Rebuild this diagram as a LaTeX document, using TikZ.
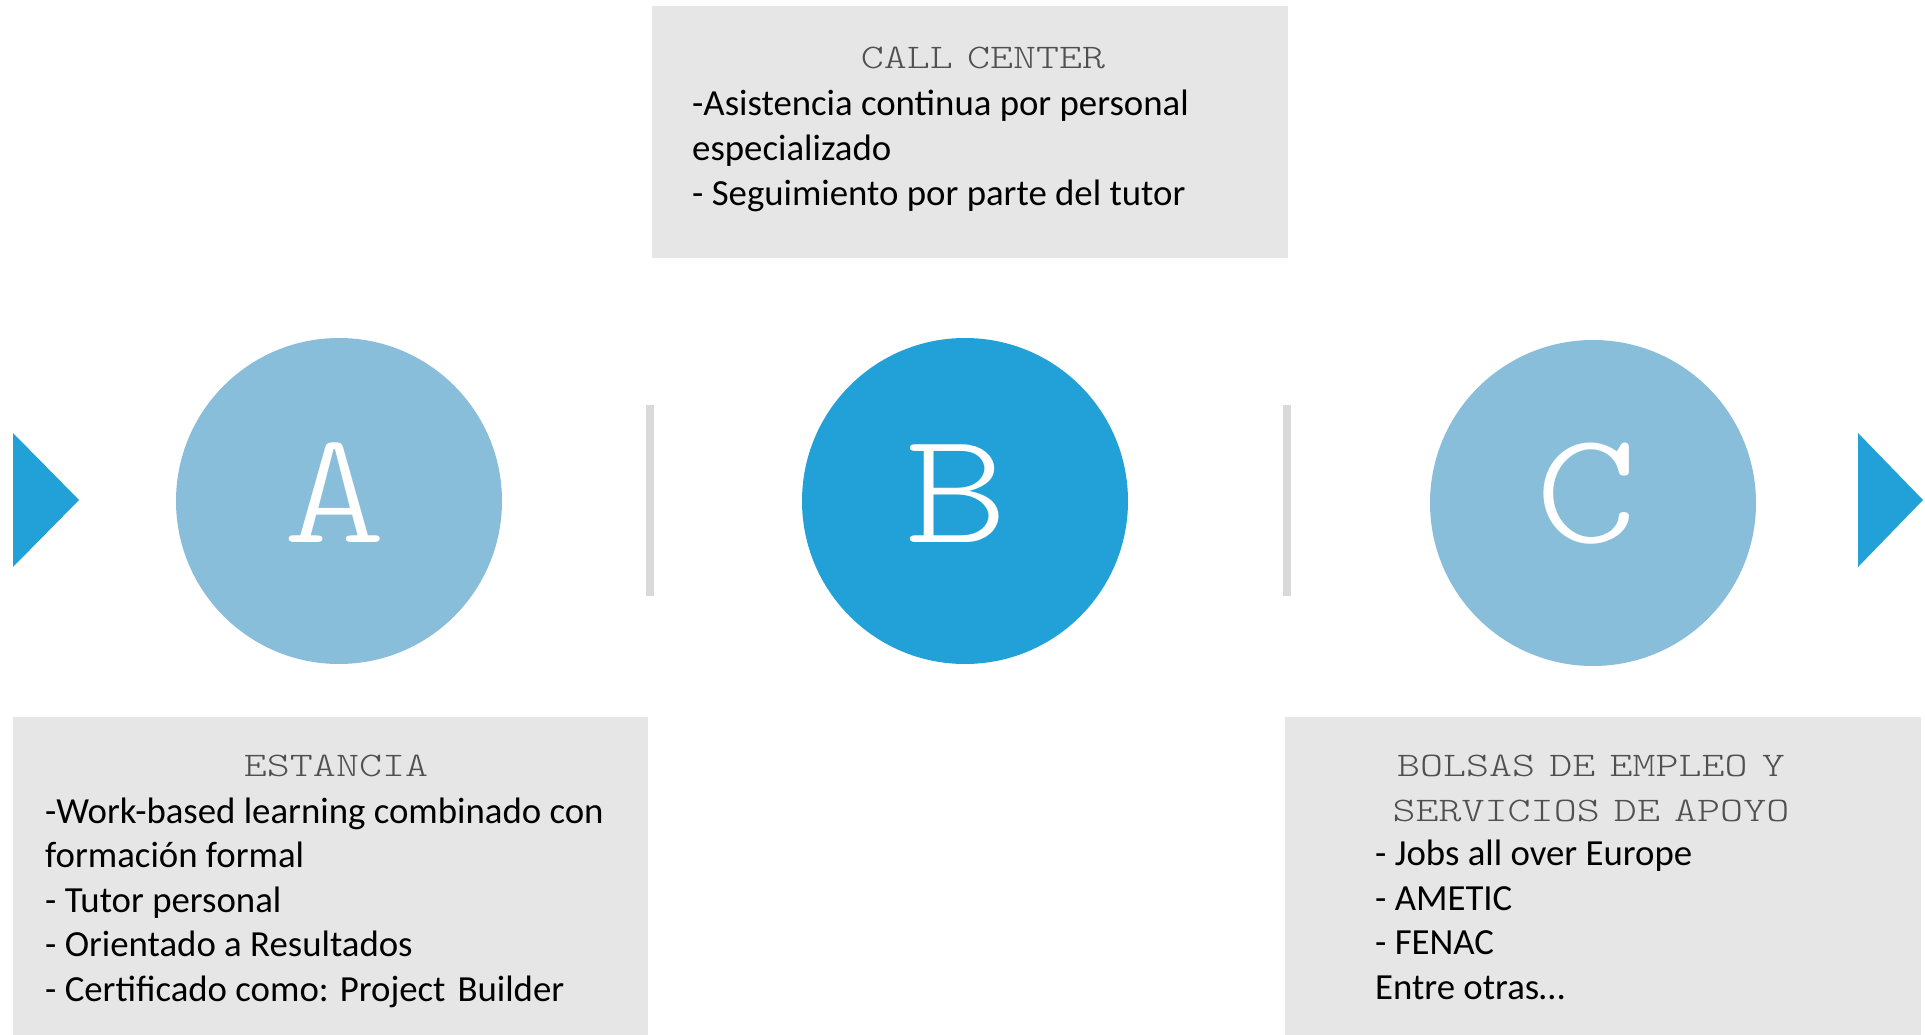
\documentclass[tikz,border=0pt]{standalone}
\usepackage{fontspec}
\usepackage{pdfrender}
\setmainfont{Carlito}
\newfontfamily\monolt[FakeStretch=1.27,WordSpace=0.62]{lmmonolt10-regular.otf}
\newfontfamily\monoletter[FakeStretch=1.22]{lmmonolt10-regular.otf}
\definecolor{lightblue}{RGB}{137,190,218}
\definecolor{strongblue}{RGB}{34,160,216}
\definecolor{boxgray}{RGB}{230,230,230}
\definecolor{sepgray}{RGB}{217,217,217}
\definecolor{titlegray}{RGB}{80,80,80}
\begin{document}
\begin{tikzpicture}[x=1pt,y=-1pt,
  panel/.style={fill=boxgray,draw=none,inner sep=0pt,outer sep=0pt},
  disc/.style={circle,draw=none,minimum size=326pt,inner sep=0pt},
  letter/.style={text=white,inner sep=0pt,anchor=base,font=\monoletter\fontsize{160}{160}\selectfont},
  titletext/.style={text=titlegray,inner sep=0pt,anchor=base,font=\monolt\fontsize{34.5}{45}\selectfont},
  bodytext/.style={text=black,inner sep=0pt,anchor=base west,font=\fontsize{36.8}{45}\selectfont},
  separator/.style={fill=sepgray,draw=none},
  pointer/.style={fill=strongblue,draw=none}]
\useasboundingbox (0,0) rectangle (1925,1035);
\fill[white] (0,0) rectangle (1925,1035);

% panels
\node[panel,minimum width=636pt,minimum height=252pt] (ccbox) at (970,132) {};
\node[panel,minimum width=635pt,minimum height=318pt] (estbox) at (330.5,876) {};
\node[panel,minimum width=636pt,minimum height=318pt] (bolbox) at (1603,876) {};

% circles
\node[disc,fill=lightblue] (circA) at (339,501) {};
\node[disc,fill=strongblue] (circB) at (965,501) {};
\node[disc,fill=lightblue] (circC) at (1593,503) {};
\node[letter] (letA) at (335,542) {\textpdfrender{TextRenderingMode=FillStroke,LineWidth=3.5,StrokeColor=lightblue}{A}};
\node[letter] (letB) at (957,542) {\textpdfrender{TextRenderingMode=FillStroke,LineWidth=3.5,StrokeColor=strongblue}{B}};
\node[letter] (letC) at (1587,542) {\textpdfrender{TextRenderingMode=FillStroke,LineWidth=3.5,StrokeColor=lightblue}{C}};

% separators
\fill[separator] (646,405) rectangle (654,596);
\fill[separator] (1283,405) rectangle (1291,596);

% pointers
\fill[pointer] (13,433) -- (79,500) -- (13,567) -- cycle;
\fill[pointer] (1858,433) -- (1923,500) -- (1858,567) -- cycle;

% call center text
\node[titletext] (cctitle) at (983,69) {CALL CENTER};
\foreach \txt [count=\i] in {{-Asistencia continua por personal},{especializado},{- Seguimiento por parte del tutor}}
  \node[bodytext] (cc-\i) at (692,{116+45*(\i-1)}) {\txt};

% estancia text
\node[titletext] (esttitle) at (336,776) {ESTANCIA};
\foreach \txt [count=\i] in {{-Work-based learning combinado con},{formación formal},{- Tutor personal},{- Orientado a Resultados},{- Certificado como: Project\hspace{0.1em} Builder}}
  \node[bodytext] (est-\i) at (45,{823+44.5*(\i-1)}) {\txt};

% bolsas text
\node[titletext] (boltitle1) at (1591,776) {BOLSAS DE EMPLEO Y};
\node[titletext] (boltitle2) at (1591,821) {SERVICIOS DE APOYO};
\foreach \txt [count=\i] in {{- Jobs all over Europe},{- AMETIC},{- FENAC},{Entre otras…}}
  \node[bodytext] (bol-\i) at (1375,{865.5+44.5*(\i-1)}) {\txt};
\end{tikzpicture}
\end{document}
